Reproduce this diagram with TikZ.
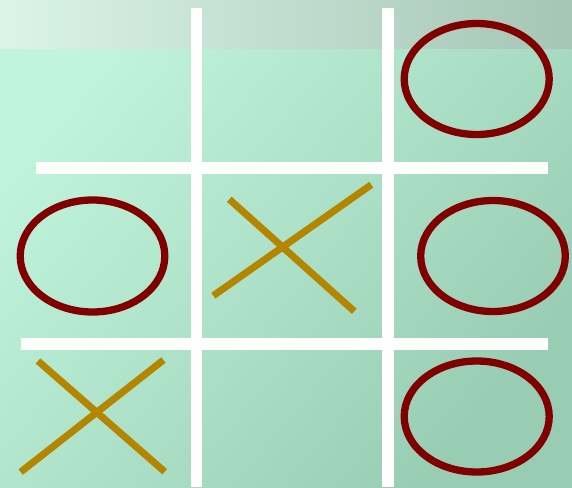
\documentclass[tikz,border=0pt]{standalone}
\definecolor{bgA}{HTML}{C0F4DC}
\definecolor{bgB}{HTML}{99CDB3}
\definecolor{bandL}{HTML}{DAF4E8}
\definecolor{bandR}{HTML}{A6C5B5}
\definecolor{xcol}{HTML}{B48600}
\definecolor{ocol}{HTML}{800000}
\begin{document}
\begin{tikzpicture}[x=1pt,y=-1pt,
  grid/.style={white,line width=11.5pt},
  cross/.style={draw=xcol,line width=7pt},
  ring/.style={draw=ocol,line width=7.3pt}]
\useasboundingbox (0,0) rectangle (572,487);
\shade[shading=axis,top color=bgA,bottom color=bgB,shading angle=50] (0,0) rectangle (572,487);
\shade[left color=bandL,right color=bandR] (0,0) rectangle (572,49);
% grid
\draw[grid] (196.5,8) -- (196.5,487);
\draw[grid] (388,8) -- (388,487);
\draw[grid] (36,168) -- (548,168);
\draw[grid] (20.7,344) -- (548,344);
% O marks
\draw[ring] (476.7,79) ellipse [x radius=72.5pt, y radius=55.5pt];
\draw[ring] (92.5,256) ellipse [x radius=72.3pt, y radius=56pt];
\draw[ring] (493,256) ellipse [x radius=72.3pt, y radius=55.5pt];
\draw[ring] (476.7,416.5) ellipse [x radius=72.5pt, y radius=55.5pt];
% X marks
\draw[cross] (213.3,295.7) -- (371.3,184.7);
\draw[cross] (229.3,199.3) -- (354.3,311.3);
\draw[cross] (20.7,472) -- (163.5,360);
\draw[cross] (38,361) -- (164.7,471.7);
\end{tikzpicture}
\end{document}
